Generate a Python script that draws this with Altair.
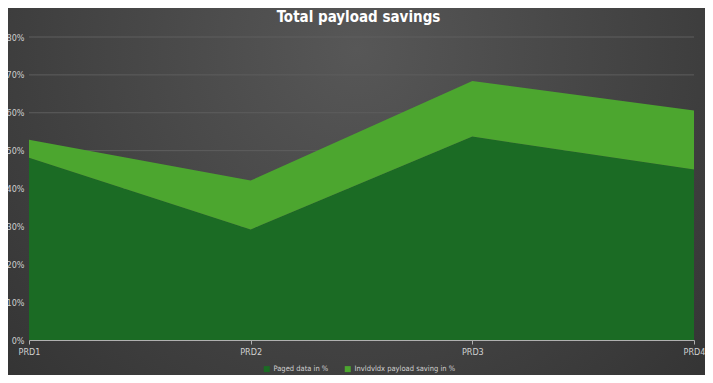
import altair as alt
import pandas as pd

categories = ["PRD1", "PRD2", "PRD3", "PRD4"]
series_names = ["Paged data in %", "Invldvldx payload saving in %"]
paged = [0.481, 0.292, 0.537, 0.450]
invl = [0.048, 0.129, 0.147, 0.156]
y_ticks = [0.0, 0.1, 0.2, 0.3, 0.4, 0.5, 0.6, 0.7, 0.8]
grid_vals = [0.1, 0.2, 0.3, 0.4, 0.5, 0.6, 0.7, 0.8]
colors = ["#1b6b24", "#4ca62f"]

W, H = 665, 303
PAD = {"left": 21, "top": 29, "right": 11, "bottom": 35}
FONT = "'Liberation Sans Narrow', 'DejaVu Sans Condensed', 'Roboto Condensed', sans-serif"

rows = []
for i, c in enumerate(categories):
    rows.append({"cat": c, "series": series_names[0], "value": paged[i], "ord": 0})
    rows.append({"cat": c, "series": series_names[1], "value": invl[i], "ord": 1})
df = pd.DataFrame(rows)

y_scale = alt.Scale(domain=[0, 0.8], nice=False, zero=True)
x_scale = alt.Scale(type="point", padding=0, domain=categories)

y_axis = alt.Axis(
    values=y_ticks, format=".0%", grid=False, domain=False, ticks=False,
    labelPadding=5, labelColor="#d0d0d0", labelFontSize=9, labelFont=FONT, zindex=2,
)
x_axis = alt.Axis(
    grid=False, domain=True, domainColor="#b0b0b0", domainWidth=1,
    ticks=True, tickColor="#b0b0b0", tickSize=4, labelAngle=0, labelPadding=3,
    labelColor="#d0d0d0", labelFontSize=9, labelFont=FONT, zindex=2,
)

bg = alt.Chart(pd.DataFrame({"a": [0]})).mark_rect(
    fill=alt.RadialGradient(
        gradient="radial",
        x1=0.5, y1=0.3, r1=0, x2=0.5, y2=0.3, r2=0.85,
        stops=[alt.GradientStop(color="#575757", offset=0),
               alt.GradientStop(color="#2b2b2b", offset=1)],
    ),
    strokeWidth=0,
).encode(
    x=alt.value(-PAD["left"] - 8),
    x2=alt.value(W + PAD["right"] + 8),
    y=alt.value(-PAD["top"] - 8),
    y2=alt.value(H + PAD["bottom"] + 8),
)

grid = alt.Chart(pd.DataFrame({"value": grid_vals})).mark_rule(
    color="#5e5e5e", strokeWidth=1
).encode(
    y=alt.Y("value:Q", scale=y_scale, title=None, axis=y_axis),
)

areas = alt.Chart(df).mark_area(opacity=1, line=False).encode(
    x=alt.X("cat:N", scale=x_scale, sort=categories, title=None, axis=x_axis),
    y=alt.Y("value:Q", scale=y_scale, stack="zero", title=None, axis=y_axis),
    color=alt.Color(
        "series:N",
        scale=alt.Scale(domain=series_names, range=colors),
        sort=series_names,
        legend=alt.Legend(
            orient="none", legendX=234, legendY=328, direction="horizontal",
            title=None, symbolType="square", symbolSize=36, symbolStrokeWidth=0,
            labelColor="#d0d0d0", labelFontSize=7.5, labelFont=FONT,
            columnPadding=15, symbolOffset=0, labelOffset=3, zindex=2,
        ),
    ),
    order=alt.Order("ord:Q"),
)

chart = alt.layer(bg, grid, areas).properties(
    width=W, height=H,
    padding=PAD,
    autosize=alt.AutoSizeParams(type="none"),
    background="#3a3a3a",
    title=alt.TitleParams(
        "Total payload savings", color="#ffffff", fontSize=15,
        font="'DejaVu Sans Condensed', sans-serif",
        fontWeight="bold", anchor="middle", frame="group",
        offset=-25, dx=-3, zindex=2,
    ),
).configure_view(stroke=None)

chart.save("out.html", embed_options={"renderer": "svg", "actions": False})
